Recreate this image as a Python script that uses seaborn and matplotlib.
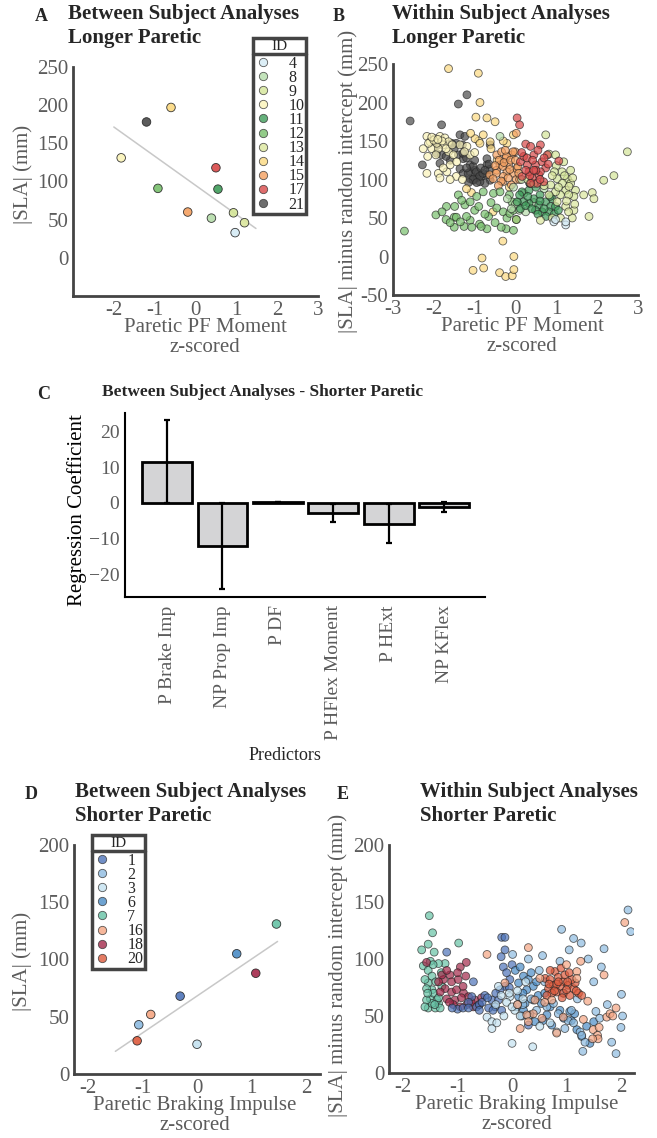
import matplotlib
matplotlib.use("Agg")
import matplotlib.pyplot as plt
from matplotlib.lines import Line2D
import pandas as pd
import seaborn as sns

# ---------------- data ----------------
# panel A: between subject, longer paretic
a_ids = [4, 8, 9, 10, 11, 12, 13, 14, 15, 17, 21]
a_pf = [0.97, 0.39, 0.93, -1.82, 0.55, -0.92, 1.20, -0.60, -0.19, 0.50, -1.20]
a_sla = [33, 52, 59, 131, 90, 91, 46, 197, 60, 118, 178]
a_fit_x = [-2.0, 1.48]
a_fit = (95.0, -38.2)  # intercept, slope

long_colors = {4: '#d4eaf4', 8: '#b5dcaa', 9: '#d4e597', 10: '#faf3b8', 11: '#3f9c5a',
               12: '#78bf6c', 13: '#dbe69c', 14: '#fbd980', 15: '#f4a060', 17: '#d84848',
               21: '#4a4a4a'}

# panel B: within subject, longer paretic
b_x = {
    21: [-2.58, -1.81, -1.40, -1.19, -2.28, -1.93, -1.81, -1.85, -1.56, -1.36, -1.24, -1.40, -1.28,
         -1.11, -1.36, -1.28, -1.11, -0.99, -0.91, -0.95, -0.83, -0.70, -0.62, -0.75, -0.87, -1.03,
         -1.11, -0.70, -0.70, -0.62, -1.45, -1.29, -1.20, -1.04, -0.96, -0.88, -0.80, -0.63, -1.16,
         -1.04, -1.50, -1.30, -1.00, -0.85, -0.75, -1.20, -0.95, -1.15, -0.65, -1.60, -1.70, -1.90],
    10: [-2.17, -2.09, -1.97, -1.85, -1.73, -1.64, -1.77, -2.05, -2.26, -1.89, -1.64, -1.52, -2.17,
         -1.89, -1.85, -1.68, -1.60, -1.77, -1.36, -1.19, -1.11, -1.44, -2.13, -1.93, -2.00, -1.80,
         -2.05, -1.90, -1.95, -2.15, -1.70, -1.55, -1.45, -1.30, -1.60, -1.25, -0.90, -1.00],
    14: [-1.64, -0.91, -0.87, -0.97, -0.70, -0.50, -0.31, -0.04, -0.82, -0.78, -1.04, -0.39, -0.24,
         -0.08, -0.04, -0.99, -0.79, -0.87, -0.62, -0.21, -0.05, -1.08, -0.55, 0.02, -1.20, -0.45,
         -0.60, -0.30, -1.10, -0.15],
    15: [-0.46, -0.34, -0.25, -0.38, -0.17, -0.09, -0.01, -0.21, -0.05, -0.30, -0.46, 0.03, -0.63,
         -0.47, -0.31, -0.14, 0.02, -0.10, -0.22, -0.06, -0.31, 0.06, 0.02, -0.55, 0.10, -0.40,
         -0.28, -0.12, -0.35, -0.18, 0.00, -0.50, -0.25, 0.08, -0.42],
    12: [-2.72, -1.95, -1.70, -1.50, -1.50, -1.26, -1.11, -1.07, -0.88, -0.70, -0.66, -0.46, -0.30,
         -0.21, -0.23, -0.05, -1.24, -1.11, -0.95, -0.79, -0.54, -0.38, -0.09, -1.40, -1.32, -1.69,
         -1.49, -1.45, -0.84, -0.14, 0.02, -1.80, -1.60, -1.20, -1.00, -0.60, -0.50, -0.35, -0.75,
         -1.35, -0.90, -0.15, -0.05],
    8: [-0.38, 0.05, 0.20, -0.05, 0.10, 0.35, 0.70, -0.20, 0.00, 0.15, 0.45, -0.10, 0.25],
    11: [0.16, 0.33, 0.45, 0.33, 0.57, 0.74, 0.86, 0.65, 0.49, 0.82, 0.98, 0.20, 0.04, 0.12, 0.60,
         0.30, 0.90, 0.50, 0.25, 0.40, 0.55, 0.70, 0.85, 0.95, 0.10, 0.35, 0.60, 0.75, 1.05],
    9: [0.74, 0.82, 0.98, 1.18, 1.35, 1.27, 1.35, 1.47, 1.43, 1.23, 1.10, 0.98, 0.86, 2.74, 2.41,
        2.16, 1.14, 1.02, 1.00, 1.20, 1.30, 1.15, 0.95, 1.05],
    13: [0.82, 1.02, 1.23, 1.43, 1.39, 1.10, 0.90, 0.61, 1.67, 1.88, 1.92, 1.80, 1.31, 0.30, 0.45,
         1.25, 1.45, 1.30, 0.90, 0.70, 1.40],
    17: [0.04, 0.10, 0.25, 0.37, 0.61, 0.45, 0.29, 0.49, 0.65, 0.74, 0.57, 0.41, 0.33, 0.69, 0.53,
         0.37, 0.16, 1.06, 0.12, 0.78, 0.61, 0.20, 0.50, 0.28, 0.42, 0.55, 0.70, 0.35, 0.60, 0.45,
         0.25, 0.80, 0.15],
    4: [0.94, 1.23, 1.23, 0.98],
}
b_y = {
    21: [176, 171, 198, 210, 119, 134, 132, 121, 147, 158, 156, 132, 127, 119, 114, 108, 110, 112,
         108, 102, 104, 106, 99, 95, 97, 99, 101, 119, 127, 145, 147, 134, 128, 117, 110, 104, 108,
         113, 108, 100, 140, 145, 125, 115, 112, 115, 96, 96, 120, 125, 130, 145],
    10: [156, 149, 153, 156, 154, 149, 145, 140, 140, 140, 136, 132, 108, 108, 102, 110, 119, 115,
         145, 143, 132, 123, 147, 147, 151, 150, 155, 152, 132, 130, 140, 145, 104, 100, 100, 136,
         150, 135],
    14: [244, 238, 200, 181, 180, 175, 20, 0, -2, -15, -18, -21, -26, -25, -17, 153, 158, 147, 149,
         147, 158, 83, 58, 48, 88, 125, 140, 150, 160, 90],
    15: [132, 136, 127, 119, 119, 132, 136, 110, 108, 104, 112, 114, 106, 108, 117, 113, 100, 93,
         130, 136, 97, 117, 160, 101, 100, 125, 122, 125, 98, 102, 125, 118, 138, 108, 92],
    12: [33, 54, 48, 51, 38, 39, 47, 38, 42, 36, 52, 63, 58, 50, 36, 34, 67, 71, 78, 84, 82, 84, 71,
         80, 73, 65, 65, 51, 39, 56, 48, 58, 44, 52, 60, 70, 44, 38, 55, 45, 65, 80, 60],
    8: [156, 70, 82, 90, 60, 95, 88, 75, 68, 100, 70, 62, 58],
    11: [84, 86, 75, 69, 67, 71, 65, 58, 60, 58, 65, 71, 71, 62, 80, 78, 75, 90, 66, 62, 55, 62, 78,
         55, 80, 95, 72, 52, 60],
    9: [158, 133, 132, 123, 112, 101, 95, 86, 78, 86, 80, 84, 93, 136, 105, 99, 110, 101, 118, 105,
        80, 95, 110, 90],
    13: [80, 71, 65, 60, 50, 50, 50, 47, 80, 83, 75, 52, 91, 100, 95, 72, 68, 58, 105, 92, 102],
    17: [180, 171, 146, 143, 145, 132, 119, 119, 123, 115, 106, 102, 110, 97, 95, 95, 104, 124, 123,
         132, 110, 130, 112, 128, 125, 138, 128, 105, 100, 112, 112, 120, 135],
    4: [45, 41, 45, 48],
}

# panel C: regression coefficients, shorter paretic
c_predictors = ['P Brake Imp', 'NP Prop Imp', 'P DF', 'P HFlex Moment', 'P HExt', 'NP KFlex']
c_coef = [11.5, -12.1, 0.2, -2.8, -5.8, -1.2]
c_err = [11.6, 12.0, 0.1, 2.6, 5.5, 1.3]

# panel D: between subject, shorter paretic
d_ids = [1, 2, 3, 6, 7, 16, 18, 20]
d_brake = [-0.31, -1.07, 0.00, 0.73, 1.46, -0.85, 1.08, -1.10]
d_sla = [68, 43, 26, 105, 131, 52, 88, 29]
d_fit_x = [-1.5, 1.48]
d_fit = (68.1, 32.2)  # intercept, slope

short_colors = {1: '#4d73b8', 2: '#8dbbe0', 3: '#c4e2f0', 6: '#4a8cc6', 7: '#66c2a5',
                16: '#f4a582', 18: '#a3294a', 20: '#dd5a3c'}

# panel E: within subject, shorter paretic
e_x = {
    7: [-1.52, -1.46, -1.54, -1.66, -1.43, -0.98, -1.63, -1.54, -1.47, -1.54, -1.47, -1.50, -1.54,
        -1.41, -1.35, -1.44, -1.29, -1.23, -1.35, -1.50, -1.38, -1.32, -1.47, -1.57, -1.57, -1.60,
        -1.45, -1.40, -1.55, -1.60, -1.35, -1.30, -1.42],
    18: [-1.57, -0.84, -0.95, -1.14, -1.26, -1.11, -0.99, -1.23, -1.11, -1.02, -0.89, -0.80, -0.68,
         -0.56, -1.05, -0.93, -0.83, -0.95, -1.08, -0.71, -1.20, -1.32, -1.29, -1.20, -1.00, -0.90,
         -1.15, -0.75, -0.60, -1.35, -0.85],
    1: [-1.20, -0.19, -0.13, -0.13, -0.71, -0.74, -0.65, -0.50, -0.37, -0.31, -0.43, -0.16, -0.04,
        -0.13, -0.22, -0.25, -0.19, -1.00, -0.90, -0.60, -0.80, -1.10, 0.30, -0.55, -0.45, -0.30,
        -0.10, 0.00, -0.20, -0.05, -0.35, -0.60, -0.80],
    6: [0.06, 0.15, 0.21, 0.12, 0.30, 0.39, 0.27, 0.48, 0.39, 0.24, 0.12, 0.09, 0.21, 0.33, 0.54,
        0.64, 0.57, 0.73, 0.88, 1.06, 1.09, 1.19, 1.28, 1.37, 1.43, 0.20, 0.35, 0.45, 0.60, 0.18,
        0.42, 0.70, 0.95, 1.15, 1.50],
    2: [2.13, 2.18, 0.91, 1.13, 1.27, 1.05, 1.69, 1.40, 1.64, 0.01, 0.56, 0.88, 2.01, 1.54, 1.61,
        2.03, 1.83, 1.91, 1.30, 0.97, 1.03, 1.09, 0.85, 0.64, 0.76, 0.45, 1.13, 1.25, 1.34, 1.28,
        0.30, 0.50, 0.60, 0.95, 1.20, 1.50, 1.75, 2.00, 0.20, 0.35],
    3: [-0.25, -0.46, -0.37, -0.37, -0.28, -0.04, 0.00, 0.38, 0.51, 0.70, 0.82, -0.10, 0.05, 0.15,
        -0.05, 0.10, -0.20, 0.00, 0.20, 0.30, -0.15, 0.10, 0.25, -0.30],
    20: [0.61, 0.70, 0.79, 0.85, 0.94, 1.03, 1.13, 1.22, 0.88, 0.76, 0.67, 0.82, 0.94, 1.06, 0.73,
         0.64, 1.00, 1.16, 0.97, 1.10, 0.70, 0.82, 1.28, 0.90, 1.05, 0.78, 0.92, 1.18, 0.68, 1.02,
         0.85],
    16: [2.07, 0.30, 1.26, 1.19, 1.19, 0.51, 0.42, 0.73, 1.39, 1.31, 0.94, 0.82, 1.49, 1.57, 1.58,
         1.48, 1.74, 1.80, 1.91, 1.69, 0.39, 0.27, 0.15, 0.30, -0.46, -0.13, 1.00, 0.60, 1.60,
         1.85, 0.10, 0.55],
}
e_y = {
    7: [138, 123, 113, 108, 106, 114, 94, 90, 85, 79, 73, 65, 57, 57, 61, 70, 76, 96, 96, 98, 64,
        57, 61, 74, 64, 82, 95, 80, 70, 58, 66, 88, 60],
    18: [97, 97, 93, 86, 82, 80, 82, 74, 71, 73, 70, 67, 64, 66, 64, 66, 60, 58, 60, 58, 65, 71, 86,
         90, 88, 76, 62, 62, 60, 80, 85],
    1: [106, 119, 119, 108, 80, 67, 58, 68, 64, 58, 57, 93, 82, 76, 73, 64, 55, 56, 57, 60, 62, 57,
        42, 62, 66, 70, 88, 95, 102, 75, 55, 55, 57],
    6: [90, 93, 85, 79, 82, 76, 73, 68, 64, 61, 67, 58, 55, 51, 61, 51, 46, 42, 55, 54, 46, 38, 32,
        41, 26, 70, 88, 80, 70, 50, 45, 58, 48, 52, 45],
    2: [143, 124, 126, 118, 114, 108, 109, 100, 93, 104, 103, 98, 69, 54, 48, 50, 27, 17, 19, 39,
        46, 55, 52, 58, 61, 55, 44, 36, 27, 33, 100, 90, 80, 70, 65, 80, 60, 40, 60, 65],
    3: [76, 49, 45, 39, 44, 67, 26, 23, 41, 44, 36, 62, 55, 50, 70, 60, 68, 58, 65, 50, 50, 72, 80,
        60],
    20: [83, 82, 89, 84, 80, 77, 74, 70, 76, 77, 74, 71, 70, 68, 70, 68, 73, 79, 86, 82, 90, 78, 68,
         92, 88, 72, 66, 72, 78, 80, 80],
    16: [132, 110, 98, 89, 83, 83, 64, 64, 63, 47, 49, 35, 38, 33, 30, 30, 49, 52, 57, 86, 52, 51,
         39, 45, 104, 79, 95, 62, 40, 50, 60, 48],
}

# ---------------- style ----------------
sns.set_style('white')
plt.rcParams['font.family'] = ['Liberation Serif', 'DejaVu Serif']
TICK_GRAY = '#5c5c5c'
SPINE = '#444444'

W, H = 657, 1138
fig = plt.figure(figsize=(W / 100, H / 100), dpi=100)


def px_axes(left, top, right, bottom):
    return fig.add_axes([left / W, 1 - bottom / H, (right - left) / W, (bottom - top) / H])


def matlab_style(ax, xticks, yticks):
    for s in ['top', 'right']:
        ax.spines[s].set_visible(False)
    for s in ['left', 'bottom']:
        ax.spines[s].set_color(SPINE)
        ax.spines[s].set_linewidth(2.0)
    ax.set_xticks(xticks, labels=[str(t) for t in xticks])
    ax.set_yticks(yticks, labels=[str(t) for t in yticks])
    ax.tick_params(direction='in', length=4, width=1.5, color=SPINE, labelcolor=TICK_GRAY,
                   labelsize=15, pad=3.5)


def id_legend(ax, ids, colors, x, y):
    handles = [Line2D([], [], marker='o', ls='', markersize=6, markerfacecolor=colors[i],
                      markeredgecolor='#333333', markeredgewidth=0.6, alpha=0.8) for i in ids]
    leg = ax.legend(handles, [str(i) for i in ids], title='ID', loc='upper left',
                    bbox_to_anchor=(x / W, 1 - y / H), bbox_transform=fig.transFigure,
                    frameon=True, fancybox=False, edgecolor=SPINE, fontsize=11.5,
                    title_fontsize=11, labelspacing=-0.12, handletextpad=1.1,
                    handlelength=1.0, borderpad=0.12, borderaxespad=0, framealpha=1)
    leg.get_frame().set_linewidth(2.5)
    # small gap between the title and the first entry
    leg._legend_box.sep = 2
    return leg


def scatter_panel(ax, xs, ys, colors, size, alpha):
    rows = []
    for k in xs:
        for xv, yv in zip(xs[k], ys[k]):
            rows.append((k, xv, yv))
    df = pd.DataFrame(rows, columns=['ID', 'x', 'y'])
    sns.scatterplot(data=df, x='x', y='y', hue='ID', palette=colors, s=size, alpha=alpha,
                    edgecolor='#222222', linewidth=0.6, legend=False, ax=ax)


def title(x, y, lines, letter, lx):
    for i, line in enumerate(lines):
        fig.text(x / W, 1 - (y + 24 * i) / H, line, ha='left', va='top', fontsize=15,
                 fontweight='bold')
    fig.text(lx / W, 1 - (y + 4) / H, letter, ha='left', va='top', fontsize=13, fontweight='bold')


# ---------------- panel A ----------------
axA = px_axes(73, 67, 318, 296)
dfA = pd.DataFrame({'ID': a_ids, 'pf': a_pf, 'sla': a_sla})
axA.plot(a_fit_x, [a_fit[0] + a_fit[1] * v for v in a_fit_x], color='#c8c8c8', lw=1.1, zorder=1)
sns.scatterplot(data=dfA, x='pf', y='sla', hue='ID', palette=long_colors, s=38, alpha=0.9,
                edgecolor='#222222', linewidth=0.6, legend=False, ax=axA, zorder=3)
axA.set_xlim(-3, 3)
axA.set_ylim(-50, 250)
matlab_style(axA, [-2, -1, 0, 1, 2, 3], [0, 50, 100, 150, 200, 250])
axA.set_xlabel('Paretic PF Moment\nz-scored', fontsize=15, color=TICK_GRAY, linespacing=1.1)
axA.set_ylabel('|SLA| (mm)', fontsize=15, color=TICK_GRAY)
axA.xaxis.set_label_coords(0.54, -0.095)
axA.yaxis.set_label_coords(-0.165, 0.53)
legA = id_legend(axA, a_ids, long_colors, 253, 38)
title(68, 4, ['Between Subject Analyses', 'Longer Paretic'], 'A', 35)

# ---------------- panel B ----------------
axB = px_axes(393, 64, 638, 295)
scatter_panel(axB, b_x, b_y, long_colors, 32, 0.7)
axB.set_xlim(-3, 3)
axB.set_ylim(-50, 250)
matlab_style(axB, [-3, -2, -1, 0, 1, 2, 3], [-50, 0, 50, 100, 150, 200, 250])
axB.set_xlabel('Paretic PF Moment\nz-scored', fontsize=15, color=TICK_GRAY, linespacing=1.1)
axB.set_ylabel('|SLA| minus random intercept (mm)', fontsize=15, color=TICK_GRAY)
axB.xaxis.set_label_coords(0.527, -0.095)
axB.yaxis.set_label_coords(-0.143, 0.49)
title(392, 4, ['Within Subject Analyses', 'Longer Paretic'], 'B', 333)

# ---------------- panel C ----------------
axC = px_axes(125, 413, 485, 597)
dfC = pd.DataFrame({'predictor': c_predictors, 'coef': c_coef})
sns.barplot(data=dfC, x='predictor', y='coef', color='#d4d4d6', saturation=1, edgecolor='black',
            linewidth=2, width=0.9, errorbar=None, ax=axC)
axC.errorbar(range(len(c_coef)), c_coef, yerr=c_err, fmt='none', ecolor='black', elinewidth=1.6,
             capsize=2.2, capthick=1.6)
axC.set_xlim(-0.76, 5.74)
axC.set_ylim(-26.3, 25.1)
for s in ['top', 'right']:
    axC.spines[s].set_visible(False)
for s in ['left', 'bottom']:
    axC.spines[s].set_color('black')
    axC.spines[s].set_linewidth(1.5)
axC.set_yticks([-20, -10, 0, 10, 20], labels=['\u221220', '\u221210', '0', '10', '20'])
axC.tick_params(axis='y', direction='out', length=3, width=1.2, color='black',
                labelcolor=TICK_GRAY, labelsize=14, pad=1)
axC.tick_params(axis='x', direction='out', length=3, width=1.2, color='black',
                labelcolor=TICK_GRAY, labelsize=14, pad=3, rotation=90)
axC.set_xlabel('')
axC.set_ylabel('Regression Coefficient', fontsize=15, color='black')
axC.yaxis.set_label_coords(-0.106, 0.47)
fig.text(285 / W, 1 - 756 / H, 'Predictors', ha='center', va='center', fontsize=13)
fig.text(102 / W, 1 - 384 / H, 'Between Subject Analyses - Shorter Paretic', ha='left', va='top',
         fontsize=12.5, fontweight='bold')
fig.text(37 / W, 1 - 386 / H, 'C', ha='left', va='top', fontsize=13, fontweight='bold')

# ---------------- panel D ----------------
axD = px_axes(74, 845, 320, 1074)
dfD = pd.DataFrame({'ID': d_ids, 'brake': d_brake, 'sla': d_sla})
axD.plot(d_fit_x, [d_fit[0] + d_fit[1] * v for v in d_fit_x], color='#c8c8c8', lw=1.1, zorder=1)
sns.scatterplot(data=dfD, x='brake', y='sla', hue='ID', palette=short_colors, s=38, alpha=0.9,
                edgecolor='#222222', linewidth=0.6, legend=False, ax=axD, zorder=3)
axD.set_xlim(-2.26, 2.26)
axD.set_ylim(0, 200)
matlab_style(axD, [-2, -1, 0, 1, 2], [0, 50, 100, 150, 200])
axD.set_xlabel('Paretic Braking Impulse\nz-scored', fontsize=15, color=TICK_GRAY, linespacing=1.1)
axD.set_ylabel('|SLA| (mm)', fontsize=15, color=TICK_GRAY)
axD.xaxis.set_label_coords(0.49, -0.095)
axD.yaxis.set_label_coords(-0.171, 0.49)
legD = id_legend(axD, d_ids, short_colors, 92, 835)
title(75, 782, ['Between Subject Analyses', 'Shorter Paretic'], 'D', 25)

# ---------------- panel E ----------------
axE = px_axes(389, 845, 634, 1073)
scatter_panel(axE, e_x, e_y, short_colors, 32, 0.7)
axE.set_xlim(-2.26, 2.24)
axE.set_ylim(0, 200)
matlab_style(axE, [-2, -1, 0, 1, 2], [0, 50, 100, 150, 200])
axE.set_xlabel('Paretic Braking Impulse\nz-scored', fontsize=15, color=TICK_GRAY, linespacing=1.1)
axE.set_ylabel('|SLA| minus random intercept (mm)', fontsize=15, color=TICK_GRAY)
axE.xaxis.set_label_coords(0.52, -0.095)
axE.yaxis.set_label_coords(-0.167, 0.47)
title(420, 782, ['Within Subject Analyses', 'Shorter Paretic'], 'E', 337)

# header line under the legend titles
fig.canvas.draw()
renderer = fig.canvas.get_renderer()
for leg in (legA, legD):
    tb = leg.get_title().get_window_extent(renderer)
    fb = leg.get_frame().get_window_extent(renderer)
    yline = (tb.y0 - 1) / fig.bbox.height
    fig.add_artist(Line2D([fb.x0 / fig.bbox.width, fb.x1 / fig.bbox.width], [yline, yline],
                          transform=fig.transFigure, color=SPINE, lw=2.5))

fig.savefig('out.png', dpi=100)
